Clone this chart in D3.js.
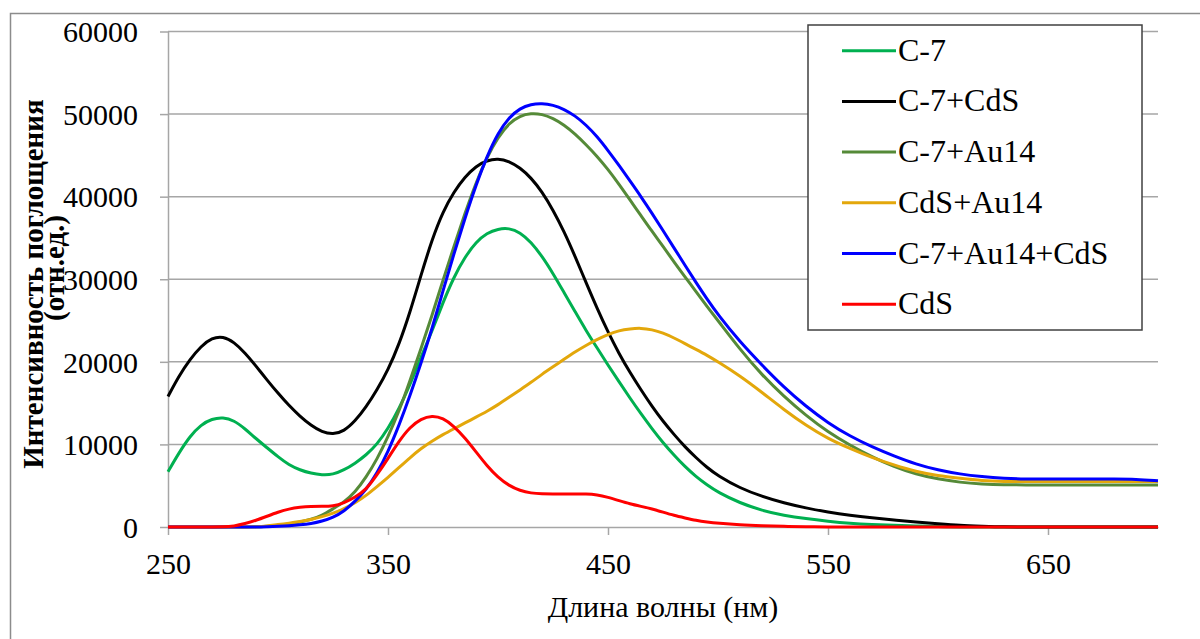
<!DOCTYPE html>
<html>
<head>
<meta charset="utf-8">
<script src="https://cdn.jsdelivr.net/npm/d3@7"></script>
<style>
  html, body { margin: 0; padding: 0; background: #fff; }
  svg { display: block; }
  svg text { font-family: "Liberation Serif", "Times New Roman", Times, "DejaVu Serif", serif; fill: #000; }
</style>
</head>
<body>
<div id="chart"></div>
<script>
// wavelengths, nm (5 nm up to 500, then 10 nm)
const wavelengths = [250,255,260,265,270,275,280,285,290,295,300,305,310,315,320,325,330,335,340,345,
  350,355,360,365,370,375,380,385,390,395,400,405,410,415,420,425,430,435,440,445,
  450,455,460,465,470,475,480,485,490,495,500,
  510,520,530,540,550,560,570,580,590,600,610,620,630,640,650,660,670,680,690,700]

const c7 = [6700,9000,11000,12400,13100,13300,12900,11900,10700,9600,8500,7500,6900,6500,6300,6350,6900,7700,8700,10000,
  11900,14300,17200,20600,23700,27200,30300,32700,34500,35600,36100,36200,35700,34500,32800,30700,28400,26100,23800,21700,
  19600,17600,15600,13700,11900,10200,8700,7300,6100,5100,4200,
  2900,2000,1400,1000,700,450,300,200,120,60,0,0,0,0,0,0,0,0,0,0]

const c7CdS = [15800,18300,20300,21900,22900,23100,22400,21100,19500,17800,16200,14700,13400,12300,11500,11200,11600,12800,14500,16600,
  19000,22100,26000,30500,34800,38200,40600,42400,43700,44400,44600,44300,43500,42300,40600,38400,35800,32800,29600,26500,
  23600,21000,18700,16600,14600,12800,11200,9700,8400,7200,6200,
  4700,3700,2900,2300,1800,1400,1100,850,600,400,200,100,0,0,0,0,0,0,0,0]

const c7Au = [0,0,0,0,0,0,0,0,0,100,200,350,600,900,1400,2200,3000,4200,6000,8200,
  10900,14000,17700,21600,25600,29900,34000,38000,41700,44800,47200,48900,49800,50100,50000,49500,48700,47600,46300,44900,
  43300,41500,39600,37700,35800,34000,32100,30300,28500,26700,25000,
  21500,18400,15800,13500,11500,9900,8500,7300,6400,5800,5400,5200,5100,5100,5100,5100,5100,5100,5100,5100]

const cdsAu = [0,0,0,0,0,0,0,0,0,100,300,450,650,900,1250,1650,2200,2900,3800,4900,
  6000,7200,8400,9500,10400,11200,11900,12600,13300,14000,14800,15700,16600,17500,18500,19400,20300,21200,22000,22700,
  23300,23800,24000,24100,23900,23500,22900,22200,21500,20800,20000,
  18300,16300,14200,12300,10700,9500,8400,7500,6700,6200,5900,5600,5500,5500,5500,5500,5500,5500,5500,5500]

const c7AuCdS = [0,0,0,0,0,0,0,0,0,30,80,150,250,400,700,1150,1900,3100,4500,6500,
  9100,12300,15900,19800,24000,28600,33100,37400,41400,44900,47700,49600,50700,51200,51300,51100,50600,49800,48700,47300,
  45600,43800,41900,40000,38000,35900,33800,31700,29600,27600,25700,
  22400,19600,16900,14600,12600,11000,9700,8600,7600,6900,6400,6100,5900,5800,5800,5800,5800,5800,5800,5600]

const cds = [0,0,0,0,0,0,100,400,800,1300,1800,2200,2400,2500,2500,2500,2900,3600,4500,6300,
  8300,10400,12100,13100,13500,13200,12200,10800,9100,7400,6000,5000,4400,4100,4000,4000,4000,4000,4000,3900,
  3600,3200,2800,2500,2200,1800,1400,1100,800,600,450,
  250,150,80,40,0,0,0,0,0,0,0,0,0,0,0,0,0,0,0,0]

const seriesNames = ['C-7', 'C-7+CdS', 'C-7+Au14', 'CdS+Au14', 'C-7+Au14+CdS', 'CdS']
const seriesValues = [c7, c7CdS, c7Au, cdsAu, c7AuCdS, cds]
const seriesColors = ['#00B050', '#000000', '#558A38', '#E3A70B', '#0000FF', '#FF0000']

const xTicks = [250, 350, 450, 550, 650]
const yTicks = [0, 10000, 20000, 30000, 40000, 50000, 60000]

const W = 1200
const H = 639
const plot = {left: 168, right: 1158, top: 31.5, bottom: 527}
const serif = '"Liberation Serif", "Times New Roman", Times, "DejaVu Serif", serif'

const svg = d3.select('#chart').append('svg')
  .attr('width', W)
  .attr('height', H)

// outer chart frame
svg.append('path')
  .attr('d', `M10.5,${H} V13.5 H${W}`)
  .attr('fill', 'none')
  .attr('stroke', '#8c8c8c')
  .attr('stroke-width', 1.5)

const x = d3.scaleLinear().domain([250, 700]).range([plot.left, plot.right])
const y = d3.scaleLinear().domain([0, 60000]).range([plot.bottom, plot.top])

// gridlines
svg.append('g')
  .selectAll('line')
  .data(yTicks.filter(d => d > 0))
  .enter()
  .append('line')
  .attr('x1', plot.left)
  .attr('x2', plot.right)
  .attr('y1', d => y(d))
  .attr('y2', d => y(d))
  .attr('stroke', '#a6a6a6')
  .attr('stroke-width', 1.5)

// y axis
const yAxis = svg.append('g')
  .attr('transform', `translate(${plot.left},0)`)
  .call(d3.axisLeft(y).tickValues(yTicks).tickSize(8).tickSizeOuter(0).tickPadding(22).tickFormat(d3.format('d')))
yAxis.attr('font-family', null)
yAxis.select('.domain').attr('stroke', '#a6a6a6').attr('stroke-width', 1.5)
yAxis.selectAll('.tick line').attr('stroke', '#a6a6a6').attr('stroke-width', 1.5)
yAxis.selectAll('.tick text')
  .style('font-family', serif)
  .style('font-size', '30px')
  .attr('fill', '#000')
  .attr('dy', '0.34em')

// x axis
const xAxis = svg.append('g')
  .attr('transform', `translate(0,${plot.bottom})`)
  .call(d3.axisBottom(x).tickValues(xTicks).tickSize(8).tickSizeOuter(0).tickPadding(18).tickFormat(d3.format('d')))
xAxis.attr('font-family', null)
xAxis.select('.domain').attr('stroke', '#a6a6a6').attr('stroke-width', 1.5)
xAxis.selectAll('.tick line').attr('stroke', '#a6a6a6').attr('stroke-width', 1.5)
xAxis.selectAll('.tick text')
  .style('font-family', serif)
  .style('font-size', '30px')
  .attr('fill', '#000')

// curves
const line = d3.line()
  .x((d, i) => x(wavelengths[i]))
  .y(d => y(d))
  .curve(d3.curveBasis)

svg.append('g')
  .selectAll('path')
  .data(seriesValues)
  .enter()
  .append('path')
  .attr('d', d => line(d))
  .attr('fill', 'none')
  .attr('stroke', (d, i) => seriesColors[i])
  .attr('stroke-width', 3)
  .attr('stroke-linejoin', 'round')

// axis titles
svg.append('text')
  .attr('x', (plot.left + plot.right) / 2)
  .attr('y', 617)
  .attr('text-anchor', 'middle')
  .style('font-family', serif)
  .style('font-size', '30px')
  .text('Длина волны (нм)')

svg.append('text')
  .attr('transform', 'translate(43,284) rotate(-90)')
  .attr('text-anchor', 'middle')
  .style('font-family', serif)
  .style('font-size', '29px')
  .style('font-weight', 'bold')
  .text('Интенсивность  поглощения')

svg.append('text')
  .attr('transform', 'translate(64,268) rotate(-90)')
  .attr('text-anchor', 'middle')
  .style('font-family', serif)
  .style('font-size', '29px')
  .style('font-weight', 'bold')
  .text('(отн.ед.)')

// legend
const legend = svg.append('g')
legend.append('rect')
  .attr('x', 808)
  .attr('y', 25)
  .attr('width', 334)
  .attr('height', 305)
  .attr('fill', '#fff')
  .attr('stroke', '#404040')
  .attr('stroke-width', 1.5)

const rows = legend.selectAll('g.row')
  .data(seriesNames)
  .enter()
  .append('g')
  .attr('class', 'row')
  .attr('transform', (d, i) => `translate(0,${50.7 + i * 50.7})`)

rows.append('line')
  .attr('x1', 842)
  .attr('x2', 896)
  .attr('stroke', (d, i) => seriesColors[i])
  .attr('stroke-width', 3)

rows.append('text')
  .attr('x', 898)
  .attr('y', 10)
  .style('font-family', serif)
  .style('font-size', '32px')
  .text(d => d)
</script>
</body>
</html>
